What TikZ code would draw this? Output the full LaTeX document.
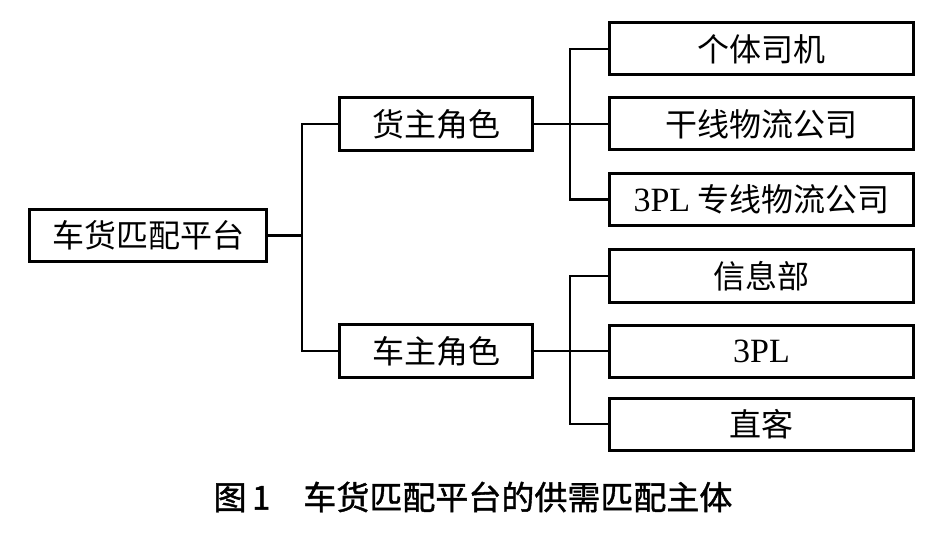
\documentclass[tikz,border=0pt]{standalone}
\usepackage{fontspec}
\setmainfont{Liberation Serif}
\newfontfamily\cjk{Noto Sans CJK SC}
\newfontfamily\capfont[FakeBold=1.3]{Noto Sans CJK SC}
\usetikzlibrary{positioning}

\begin{document}
\begin{tikzpicture}[x=1pt,y=1pt,node distance=75pt,on grid,
      every node/.style={inner sep=0pt},
      box/.style={draw,line width=3pt,minimum height=52pt,
        font=\fontsize{32}{32}\selectfont\cjk},
      rootbox/.style={box,minimum width=237pt},
      rolebox/.style={box,minimum width=193pt,minimum height=53pt},
      leafbox/.style={box,minimum width=304pt},
      link/.style={line width=2.8pt}]
      \useasboundingbox (0,0) rectangle (947,-545);
      % platform and the two roles
      \node[rootbox] (root) at (148,-235.5) {车货匹配平台};
      \node[rolebox] (cargo) at (436,-124) {货主角色};
      \node[rolebox] (truck) at (436,-351) {车主角色};
      % cargo side
      \node[leafbox] (c2) [right=325.5pt of cargo] {干线物流公司};
      \node[leafbox] (c1) [above=of c2] {个体司机};
      \node[leafbox] (c3) [below=75.5pt of c2] {{\rmfamily\fontsize{34}{34}\selectfont 3PL} 专线物流公司};
      % truck side
      \node[leafbox] (t2) [right=325.5pt of truck] {\rmfamily\fontsize{34}{34}\selectfont 3PL};
      \node[leafbox] (t1) [above=of t2] {信息部};
      \node[leafbox] (t3) [below=73pt of t2] {直客};
      \draw[link] (root.east) -- ++(34,0) |- (cargo.west);
      \draw[link] (root.east) -- ++(34,0) |- (truck.west);
      \foreach \n in {c1,c2,c3}
        \draw[link] (cargo.east) -- ++(36,0) |- (\n.west);
      \foreach \n in {t1,t2,t3}
        \draw[link] (truck.east) -- ++(36,0) |- (\n.west);
      \node[font=\fontsize{33}{33}\selectfont\capfont] (caption) at (473,-497)
        {图\,1\hspace{33pt}车货匹配平台的供需匹配主体};
    \end{tikzpicture}
\end{document}
